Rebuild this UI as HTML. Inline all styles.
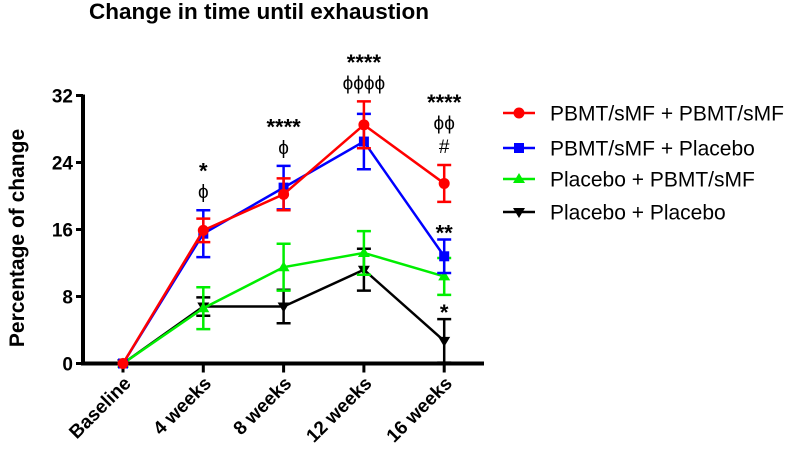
<!DOCTYPE html>
<html><head><meta charset="utf-8"><style>
body{margin:0;background:#fff;}
svg{font-family:"Liberation Sans",Arial,sans-serif;}
</style></head><body>
<svg id="chart" width="787" height="449" viewBox="0 0 787 449">
<text x="259" y="19" text-anchor="middle" font-size="22.5" font-weight="bold">Change in time until exhaustion</text>
<text transform="translate(24,238) rotate(-90)" text-anchor="middle" font-size="21" font-weight="bold">Percentage of  change</text>
<g id="axes"></g>
<g id="series"></g>
<g id="annots"></g>
<g id="legend"></g>
</svg>
<script>
const categories = ["Baseline","4 weeks","8 weeks","12 weeks","16 weeks"];
const yTicks = [0,8,16,24,32];
const seriesNames = ["PBMT/sMF + PBMT/sMF","PBMT/sMF + Placebo","Placebo + PBMT/sMF","Placebo + Placebo"];
const seriesColors = ["#ff0000","#0000ff","#00ee00","#000000"];
const redValues = [0,15.9,20.2,28.5,21.5];
const redErrors = [0,1.4,1.9,2.8,2.2];
const blueValues = [0,15.5,21.0,26.5,12.8];
const blueErrors = [0,2.8,2.6,3.3,2.0];
const greenValues = [0,6.6,11.5,13.2,10.4];
const greenErrors = [0,2.5,2.8,2.6,2.2];
const blackValues = [0,6.8,6.8,11.2,2.7];
const blackErrors = [0,1.1,2.0,2.5,2.6];
const annotations = [
  {cat:1, lines:["*","ϕ"]},
  {cat:2, lines:["****","ϕ"]},
  {cat:3, lines:["****","ϕϕϕϕ"]},
  {cat:4, lines:["****","ϕϕ","#"]}
];
const extraAnnots = [{cat:4, value:14.8, text:"**"},{cat:4, value:5.3, text:"*"}];

const NS="http://www.w3.org/2000/svg";
const X0=123, DX=80.3, Y0=363.5, YS=8.375;
const xs=i=>X0+i*DX, ys=v=>Y0-v*YS;
function mk(tag,attrs,parent){const e=document.createElementNS(NS,tag);for(const k in attrs)e.setAttribute(k,attrs[k]);parent.appendChild(e);return e;}
const axes=document.getElementById('axes');
let yl=mk('line',{x1:83,y1:ys(32)-1,x2:83,y2:Y0+2,stroke:'#000','stroke-width':4},axes);


let xl=mk('line',{x1:81,y1:Y0,x2:484,y2:Y0,stroke:'#000','stroke-width':4},axes);


yTicks.forEach(t=>{
  mk('line',{x1:76,y1:ys(t),x2:83,y2:ys(t),stroke:'#000','stroke-width':3},axes);
  const tx=mk('text',{x:73,y:ys(t)+7,'text-anchor':'end','font-size':19,'font-weight':'bold'},axes);
  tx.textContent=t;
  
  
});
categories.forEach((c,i)=>{
  mk('line',{x1:xs(i),y1:Y0,x2:xs(i),y2:Y0+9,stroke:'#000','stroke-width':3},axes);
  const tx=mk('text',{transform:`translate(${xs(i)+9},${Y0+21}) rotate(-45)`,'text-anchor':'end','font-size':19,'font-weight':'bold'},axes);
  tx.textContent=c;
  
  
});
const data=[[redValues,redErrors],[blueValues,blueErrors],[greenValues,greenErrors],[blackValues,blackErrors]];
function marker(k,x,y,col,parent){
  let m;
  if(k===0)m=mk('circle',{cx:x,cy:y,r:5.5,fill:col},parent);
  else if(k===1)m=mk('rect',{x:x-5,y:y-5,width:10,height:10,fill:col},parent);
  else if(k===2)m=mk('polygon',{points:`${x},${y-6} ${x-6},${y+4} ${x+6},${y+4}`,fill:col},parent);
  else m=mk('polygon',{points:`${x},${y+6} ${x-6},${y-4} ${x+6},${y-4}`,fill:col},parent);
  return m;
}
const sg=document.getElementById('series');
[3,2,1,0].forEach(k=>{
  const [vals,errs]=data[k], col=seriesColors[k];
  const g=mk('g',{},sg);
  
  
  const pl=mk('polyline',{points:vals.map((v,i)=>xs(i)+','+ys(v)).join(' '),fill:'none',stroke:col,'stroke-width':2.5},g);
  
  
  vals.forEach((v,i)=>{
    const e=errs[i];
    if(e>0){
      const eb=mk('path',{d:`M${xs(i)},${ys(v+e)}V${ys(v-e)}M${xs(i)-7},${ys(v+e)}h14M${xs(i)-7},${ys(v-e)}h14`,stroke:col,'stroke-width':2.5,fill:'none'},g);
      
      
    }
    const m=marker(k,xs(i),ys(v),col,g);
    
    
  });
});
const ag=document.getElementById('annots');
annotations.forEach(a=>{
  const top=ys(Math.max(redValues[a.cat]+redErrors[a.cat],blueValues[a.cat]+blueErrors[a.cat]));
  const n=a.lines.length;
  a.lines.forEach((s,j)=>{
    const y=top-12-(n-1-j)*23.5;
    const t=mk('text',{x:xs(a.cat),y:y+(s.includes('*')?4:0),'text-anchor':'middle','font-size':s.includes('*')?22:19,'font-weight':s.includes('*')?'bold':'normal'},ag);
    t.textContent=s;
    
    
  });
});
extraAnnots.forEach(a=>{
  const t=mk('text',{x:xs(a.cat),y:ys(a.value)+1,'text-anchor':'middle','font-size':22,'font-weight':'bold'},ag);
  t.textContent=a.text;
  
  
});
const lg=document.getElementById('legend');
const legY=[113,148,179,212];
seriesNames.forEach((nm,k)=>{
  const g=mk('g',{},lg);
  
  
  mk('line',{x1:503,y1:legY[k],x2:535,y2:legY[k],stroke:seriesColors[k],'stroke-width':2.5},g);
  marker(k,519,legY[k],seriesColors[k],g);
  const t=mk('text',{x:550,y:legY[k]+7.5,'font-size':21},g);
  t.textContent=nm;
});
</script>
</body></html>
